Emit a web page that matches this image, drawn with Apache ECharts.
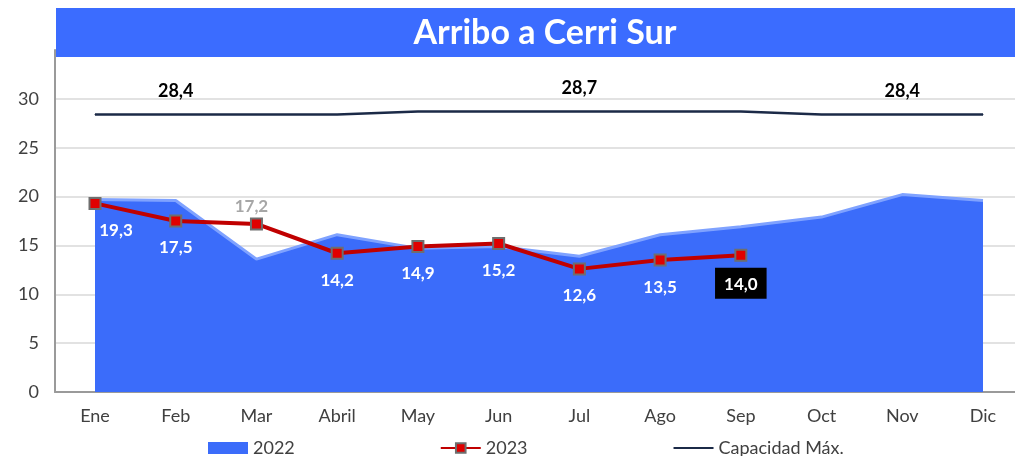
<!DOCTYPE html>
<html>
<head>
<meta charset="utf-8">
<script src="https://cdn.jsdelivr.net/npm/echarts@6/dist/echarts.min.js"></script>
<style>
  html, body { margin: 0; padding: 0; background: #fff; }
  #main { width: 1015px; height: 456px; }
</style>
</head>
<body>
<div id="main"></div>
<script>
var meses = ['Ene', 'Feb', 'Mar', 'Abril', 'May', 'Jun', 'Jul', 'Ago', 'Sep', 'Oct', 'Nov', 'Dic'];
var valores2022 = [19.7, 19.6, 13.6, 16.1, 14.7, 14.9, 13.9, 16.1, 16.9, 17.9, 20.2, 19.6];
var valores2023 = [19.3, 17.5, 17.2, 14.2, 14.9, 15.2, 12.6, 13.5, 14.0];
var capacidad = [28.4, 28.4, 28.4, 28.4, 28.7, 28.7, 28.7, 28.7, 28.7, 28.4, 28.4, 28.4];
var capacidadEtiquetas = [1, 6, 10];

var fuente = 'Lato';
var fmt = function (v) { return v.toFixed(1).replace('.', ','); };

// etiquetas 2023: blancas debajo, Mar gris arriba, Sep con fondo negro
var data2023 = valores2023.map(function (v, i) {
    var label = {
        show: true, position: 'bottom', distance: 12,
        color: '#fff', fontWeight: 'bold', fontSize: 17, fontFamily: fuente,
        formatter: function (p) { return fmt(p.value); }
    };
    if (i == 0) label.offset = [21, 0];
    if (i == 2) { label.position = 'top'; label.color = '#a6a6a6'; label.offset = [-5, 2]; label.distance = 4; }
    if (i == 8) { label.backgroundColor = '#000'; label.padding = [8, 9, 6, 9]; label.distance = 6; }
    return { value: v, label: label };
});

var dataCap = capacidad.map(function (v, i) {
    return {
        value: v,
        label: {
            show: capacidadEtiquetas.indexOf(i) >= 0, position: 'top', distance: 14,
            color: '#000', fontWeight: 'bold', fontSize: 18, fontFamily: fuente,
            formatter: function (p) { return fmt(p.value); }
        }
    };
});

var myChart = echarts.init(document.getElementById('main'));
var option = {
    animation: false,
    textStyle: { fontFamily: fuente },
    // grid 0: marco con ejes y lineas de division; grid 1: datos (categorias centradas)
    grid: [
        { left: 55, right: 0, top: 50, bottom: 64 },
        { left: 95, right: 32, top: 50, bottom: 64 }
    ],
    graphic: [
        { type: 'rect', z: 100, shape: { x: 56, y: 8, width: 959, height: 49 }, style: { fill: '#3B6CFF' } },
        { type: 'text', z: 101, x: 545, y: 33, style: { text: 'Arribo a Cerri Sur', fill: '#fff', font: 'bold 34px Lato', textAlign: 'center', textVerticalAlign: 'middle' } }
    ],
    legend: {
        left: 203, top: 434, itemGap: 145, itemWidth: 40, itemHeight: 12,
        textStyle: { fontSize: 18, color: '#404040', fontFamily: fuente },
        data: [
            { name: '2022', icon: 'rect', itemStyle: { color: '#3B6CFA' } },
            { name: '2023' },
            { name: 'Capacidad Máx.', itemStyle: { opacity: 0 } }
        ]
    },
    xAxis: [
        {
            gridIndex: 0, type: 'value', min: 0, max: 1,
            axisLine: { show: true, lineStyle: { color: '#9a9a9a', width: 2 } },
            axisTick: { show: false }, axisLabel: { show: false }, splitLine: { show: false }
        },
        {
            gridIndex: 1, type: 'category', data: meses, boundaryGap: false,
            axisLine: { show: false }, axisTick: { show: false },
            axisLabel: { fontSize: 18, color: '#404040', margin: 15 }
        }
    ],
    yAxis: [
        {
            gridIndex: 0, type: 'value', min: 0, max: 35, interval: 5,
            axisLine: { show: true, lineStyle: { color: '#9a9a9a', width: 2 } },
            axisTick: { show: false },
            axisLabel: {
                fontSize: 18, color: '#404040', margin: 16,
                formatter: function (v) { return v > 30 ? '' : v; }
            },
            splitLine: { lineStyle: { color: '#d9d9d9', width: 1.5 } }
        },
        {
            gridIndex: 1, type: 'value', min: 0, max: 35, interval: 5,
            axisLine: { show: false }, axisTick: { show: false },
            axisLabel: { show: false }, splitLine: { show: false }
        }
    ],
    series: [
        {
            name: '2022', type: 'line', data: valores2022,
            xAxisIndex: 1, yAxisIndex: 1,
            symbol: 'none', z: 1,
            lineStyle: { color: '#7FA2FF', width: 3 },
            itemStyle: { color: '#3B6CFA' },
            areaStyle: { color: '#3B6CFA', opacity: 1 }
        },
        {
            name: 'Capacidad Máx.', type: 'line', data: dataCap,
            xAxisIndex: 1, yAxisIndex: 1,
            symbol: 'circle', symbolSize: 1, showSymbol: true, z: 3,
            lineStyle: { color: '#1b2a47', width: 2.5 },
            itemStyle: { color: '#1b2a47' }
        },
        {
            name: '2023', type: 'line', data: data2023,
            xAxisIndex: 1, yAxisIndex: 1,
            symbol: 'rect', symbolSize: 11, z: 4,
            lineStyle: { color: '#c00000', width: 4 },
            itemStyle: { color: '#e00000', borderColor: '#6e6e6e', borderWidth: 2 }
        }
    ]
};
if (option && typeof option === "object") {
    myChart.setOption(option, true);
}
</script>
</body>
</html>
